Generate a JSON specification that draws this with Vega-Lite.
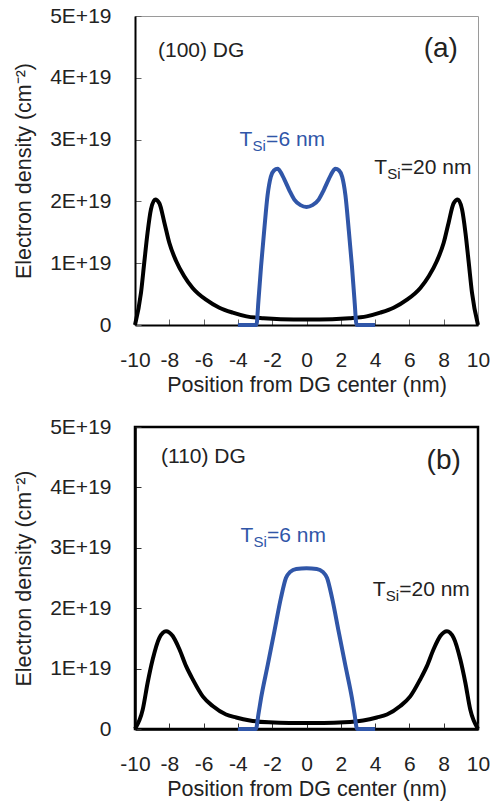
{
  "$schema": "https://vega.github.io/schema/vega-lite/v6.json",
  "background": "white",
  "padding": {"left": 12, "top": 4, "right": 5, "bottom": 0},
  "spacing": 18,
  "config": {
    "font": "Liberation Sans",
    "axis": {
      "grid": false,
      "domainColor": "black",
      "domainWidth": 2,
      "tickColor": "#666666",
      "tickSize": -6,
      "tickWidth": 1,
      "labelFont": "Liberation Sans",
      "labelFontSize": 21,
      "labelColor": "#222222",
      "labelFlush": false,
      "labelOverlap": false,
      "titleFont": "Liberation Sans",
      "titleFontSize": 21.5,
      "titleFontWeight": "normal",
      "titleColor": "#222222"
    },
    "axisX": {"labelPadding": 30, "titlePadding": 4},
    "axisY": {"labelPadding": 30, "titlePadding": 14},
    "line": {"strokeWidth": 4, "interpolate": "monotone"},
    "text": {"font": "Liberation Sans"}
  },
  "datasets": {
    "curvesA": [
      {"tsi": "20 nm", "x": -10, "n": 0},
      {"tsi": "20 nm", "x": -9.65, "n": 0.52},
      {"tsi": "20 nm", "x": -9.46, "n": 1.01},
      {"tsi": "20 nm", "x": -9.27, "n": 1.49},
      {"tsi": "20 nm", "x": -9.07, "n": 1.87},
      {"tsi": "20 nm", "x": -8.82, "n": 2.03},
      {"tsi": "20 nm", "x": -8.58, "n": 1.97},
      {"tsi": "20 nm", "x": -8.29, "n": 1.66},
      {"tsi": "20 nm", "x": -8.0, "n": 1.33},
      {"tsi": "20 nm", "x": -7.61, "n": 1.04},
      {"tsi": "20 nm", "x": -7.13, "n": 0.79},
      {"tsi": "20 nm", "x": -6.64, "n": 0.6},
      {"tsi": "20 nm", "x": -5.86, "n": 0.41},
      {"tsi": "20 nm", "x": -5.08, "n": 0.28},
      {"tsi": "20 nm", "x": -4.3, "n": 0.2},
      {"tsi": "20 nm", "x": -3.5, "n": 0.14},
      {"tsi": "20 nm", "x": -2.5, "n": 0.11},
      {"tsi": "20 nm", "x": -1.5, "n": 0.095},
      {"tsi": "20 nm", "x": 0, "n": 0.09},
      {"tsi": "20 nm", "x": 1.5, "n": 0.095},
      {"tsi": "20 nm", "x": 2.5, "n": 0.11},
      {"tsi": "20 nm", "x": 3.5, "n": 0.14},
      {"tsi": "20 nm", "x": 4.3, "n": 0.2},
      {"tsi": "20 nm", "x": 5.08, "n": 0.28},
      {"tsi": "20 nm", "x": 5.86, "n": 0.41},
      {"tsi": "20 nm", "x": 6.64, "n": 0.6},
      {"tsi": "20 nm", "x": 7.13, "n": 0.79},
      {"tsi": "20 nm", "x": 7.61, "n": 1.04},
      {"tsi": "20 nm", "x": 8.0, "n": 1.33},
      {"tsi": "20 nm", "x": 8.29, "n": 1.66},
      {"tsi": "20 nm", "x": 8.58, "n": 1.97},
      {"tsi": "20 nm", "x": 8.82, "n": 2.03},
      {"tsi": "20 nm", "x": 9.07, "n": 1.87},
      {"tsi": "20 nm", "x": 9.27, "n": 1.49},
      {"tsi": "20 nm", "x": 9.46, "n": 1.01},
      {"tsi": "20 nm", "x": 9.65, "n": 0.52},
      {"tsi": "20 nm", "x": 10, "n": 0},
      {"tsi": "6 nm", "x": -4, "n": 0},
      {"tsi": "6 nm", "x": -2.92, "n": 0},
      {"tsi": "6 nm", "x": -2.8, "n": 0.4},
      {"tsi": "6 nm", "x": -2.65, "n": 0.95},
      {"tsi": "6 nm", "x": -2.46, "n": 1.55},
      {"tsi": "6 nm", "x": -2.27, "n": 2.1},
      {"tsi": "6 nm", "x": -2.08, "n": 2.4},
      {"tsi": "6 nm", "x": -1.9, "n": 2.5},
      {"tsi": "6 nm", "x": -1.68, "n": 2.53},
      {"tsi": "6 nm", "x": -1.5, "n": 2.47},
      {"tsi": "6 nm", "x": -1.3, "n": 2.36},
      {"tsi": "6 nm", "x": -1.0, "n": 2.18},
      {"tsi": "6 nm", "x": -0.71, "n": 2.03},
      {"tsi": "6 nm", "x": -0.35, "n": 1.94},
      {"tsi": "6 nm", "x": 0, "n": 1.91},
      {"tsi": "6 nm", "x": 0.35, "n": 1.94},
      {"tsi": "6 nm", "x": 0.71, "n": 2.03},
      {"tsi": "6 nm", "x": 1.0, "n": 2.18},
      {"tsi": "6 nm", "x": 1.3, "n": 2.36},
      {"tsi": "6 nm", "x": 1.5, "n": 2.47},
      {"tsi": "6 nm", "x": 1.68, "n": 2.53},
      {"tsi": "6 nm", "x": 1.9, "n": 2.5},
      {"tsi": "6 nm", "x": 2.08, "n": 2.4},
      {"tsi": "6 nm", "x": 2.27, "n": 2.1},
      {"tsi": "6 nm", "x": 2.46, "n": 1.55},
      {"tsi": "6 nm", "x": 2.65, "n": 0.95},
      {"tsi": "6 nm", "x": 2.8, "n": 0.4},
      {"tsi": "6 nm", "x": 2.92, "n": 0},
      {"tsi": "6 nm", "x": 4, "n": 0}
    ],
    "curvesB": [
      {"tsi": "20 nm", "x": -10, "n": 0},
      {"tsi": "20 nm", "x": -9.55, "n": 0.32},
      {"tsi": "20 nm", "x": -9.26, "n": 0.77},
      {"tsi": "20 nm", "x": -8.97, "n": 1.15},
      {"tsi": "20 nm", "x": -8.58, "n": 1.51},
      {"tsi": "20 nm", "x": -8.19, "n": 1.62},
      {"tsi": "20 nm", "x": -7.8, "n": 1.54},
      {"tsi": "20 nm", "x": -7.41, "n": 1.32},
      {"tsi": "20 nm", "x": -7.02, "n": 1.04},
      {"tsi": "20 nm", "x": -6.63, "n": 0.82},
      {"tsi": "20 nm", "x": -6.05, "n": 0.54},
      {"tsi": "20 nm", "x": -5.47, "n": 0.38},
      {"tsi": "20 nm", "x": -4.69, "n": 0.24},
      {"tsi": "20 nm", "x": -4.1, "n": 0.19},
      {"tsi": "20 nm", "x": -3.3, "n": 0.14},
      {"tsi": "20 nm", "x": -2.2, "n": 0.11},
      {"tsi": "20 nm", "x": -1, "n": 0.1},
      {"tsi": "20 nm", "x": 0, "n": 0.1},
      {"tsi": "20 nm", "x": 1, "n": 0.1},
      {"tsi": "20 nm", "x": 2.2, "n": 0.11},
      {"tsi": "20 nm", "x": 3.3, "n": 0.14},
      {"tsi": "20 nm", "x": 4.1, "n": 0.19},
      {"tsi": "20 nm", "x": 4.69, "n": 0.24},
      {"tsi": "20 nm", "x": 5.47, "n": 0.38},
      {"tsi": "20 nm", "x": 6.05, "n": 0.54},
      {"tsi": "20 nm", "x": 6.63, "n": 0.82},
      {"tsi": "20 nm", "x": 7.02, "n": 1.04},
      {"tsi": "20 nm", "x": 7.41, "n": 1.32},
      {"tsi": "20 nm", "x": 7.8, "n": 1.54},
      {"tsi": "20 nm", "x": 8.19, "n": 1.62},
      {"tsi": "20 nm", "x": 8.58, "n": 1.51},
      {"tsi": "20 nm", "x": 8.97, "n": 1.15},
      {"tsi": "20 nm", "x": 9.26, "n": 0.77},
      {"tsi": "20 nm", "x": 9.55, "n": 0.32},
      {"tsi": "20 nm", "x": 10, "n": 0},
      {"tsi": "6 nm", "x": -4, "n": 0},
      {"tsi": "6 nm", "x": -2.95, "n": 0},
      {"tsi": "6 nm", "x": -2.8, "n": 0.25},
      {"tsi": "6 nm", "x": -2.65, "n": 0.51},
      {"tsi": "6 nm", "x": -2.26, "n": 1.06},
      {"tsi": "6 nm", "x": -1.87, "n": 1.62},
      {"tsi": "6 nm", "x": -1.49, "n": 2.17},
      {"tsi": "6 nm", "x": -1.2, "n": 2.5},
      {"tsi": "6 nm", "x": -0.95, "n": 2.6},
      {"tsi": "6 nm", "x": -0.6, "n": 2.65},
      {"tsi": "6 nm", "x": 0, "n": 2.66},
      {"tsi": "6 nm", "x": 0.6, "n": 2.65},
      {"tsi": "6 nm", "x": 0.95, "n": 2.6},
      {"tsi": "6 nm", "x": 1.2, "n": 2.5},
      {"tsi": "6 nm", "x": 1.49, "n": 2.17},
      {"tsi": "6 nm", "x": 1.87, "n": 1.62},
      {"tsi": "6 nm", "x": 2.26, "n": 1.06},
      {"tsi": "6 nm", "x": 2.65, "n": 0.51},
      {"tsi": "6 nm", "x": 2.8, "n": 0.25},
      {"tsi": "6 nm", "x": 2.95, "n": 0},
      {"tsi": "6 nm", "x": 4, "n": 0}
    ],
    "notesA": [
      {"tsi": "6 nm", "x": -3.9, "n": 2.9, "main": "T", "sub": "Si", "rest": "=6 nm"},
      {"tsi": "20 nm", "x": 3.95, "n": 2.44, "main": "T", "sub": "Si", "rest": "=20 nm"}
    ],
    "notesB": [
      {"tsi": "6 nm", "x": -3.85, "n": 3.09, "main": "T", "sub": "Si", "rest": "=6 nm"},
      {"tsi": "20 nm", "x": 3.86, "n": 2.2, "main": "T", "sub": "Si", "rest": "=20 nm"}
    ]
  },
  "vconcat": [
    {
      "width": 343,
      "height": 309,
      "view": {"stroke": "#9a9a9a", "strokeWidth": 1},
      "encoding": {
        "x": {
          "field": "x", "type": "quantitative",
          "scale": {"domain": [-10, 10], "nice": false},
          "axis": {"values": [-10, -8, -6, -4, -2, 0, 2, 4, 6, 8, 10], "labelExpr": "datum.value < 0 ? '-' + abs(datum.value) : '' + datum.value", "title": "Position from DG center (nm)"}
        },
        "y": {
          "field": "n", "type": "quantitative",
          "scale": {"domain": [0, 5], "nice": false},
          "axis": {"values": [0, 1, 2, 3, 4, 5], "labelExpr": "datum.value == 0 ? '0' : datum.value + 'E+19'", "title": "Electron density (cm⁻²)"}
        }
      },
      "layer": [
        {
          "data": {"name": "curvesA"},
          "transform": [{"filter": "datum.tsi == '20 nm'"}],
          "mark": {"type": "line", "color": "black"}
        },
        {
          "data": {"name": "curvesA"},
          "transform": [{"filter": "datum.tsi == '6 nm'"}],
          "mark": {"type": "line", "color": "#3056a8"}
        },
        {
          "data": {"values": [{"x": -8.66, "n": 4.33, "label": "(100) DG"}]},
          "mark": {"type": "text", "align": "left", "baseline": "alphabetic", "fontSize": 21, "color": "#222222"},
          "encoding": {"text": {"field": "label"}}
        },
        {
          "data": {"values": [{"x": 8.83, "n": 4.33, "label": "(a)"}]},
          "mark": {"type": "text", "align": "right", "baseline": "alphabetic", "fontSize": 28, "color": "#222222"},
          "encoding": {"text": {"field": "label"}}
        },
        {
          "data": {"name": "notesA"},
          "mark": {"type": "text", "align": "left", "baseline": "alphabetic", "fontSize": 21},
          "encoding": {
            "text": {"field": "main"},
            "color": {"field": "tsi", "type": "nominal", "scale": {"domain": ["20 nm", "6 nm"], "range": ["#222222", "#3056a8"]}, "legend": null}
          }
        },
        {
          "data": {"name": "notesA"},
          "mark": {"type": "text", "align": "left", "baseline": "alphabetic", "fontSize": 15, "dx": 13, "dy": 5},
          "encoding": {
            "text": {"field": "sub"},
            "color": {"field": "tsi", "type": "nominal", "scale": {"domain": ["20 nm", "6 nm"], "range": ["#222222", "#3056a8"]}, "legend": null}
          }
        },
        {
          "data": {"name": "notesA"},
          "mark": {"type": "text", "align": "left", "baseline": "alphabetic", "fontSize": 21, "dx": 26.5},
          "encoding": {
            "text": {"field": "rest"},
            "color": {"field": "tsi", "type": "nominal", "scale": {"domain": ["20 nm", "6 nm"], "range": ["#222222", "#3056a8"]}, "legend": null}
          }
        }
      ]
    },
    {
      "width": 343,
      "height": 302,
      "view": {"stroke": "black", "strokeWidth": 2.5},
      "encoding": {
        "x": {
          "field": "x", "type": "quantitative",
          "scale": {"domain": [-10, 10], "nice": false},
          "axis": {"values": [-10, -8, -6, -4, -2, 0, 2, 4, 6, 8, 10], "labelExpr": "datum.value < 0 ? '-' + abs(datum.value) : '' + datum.value", "title": "Position from DG center (nm)", "domainWidth": 2.5, "tickColor": "#333333"}
        },
        "y": {
          "field": "n", "type": "quantitative",
          "scale": {"domain": [0, 5], "nice": false},
          "axis": {"values": [0, 1, 2, 3, 4, 5], "labelExpr": "datum.value == 0 ? '0' : datum.value + 'E+19'", "title": "Electron density (cm⁻²)", "domainWidth": 2.5, "tickColor": "#333333"}
        }
      },
      "layer": [
        {
          "data": {"name": "curvesB"},
          "transform": [{"filter": "datum.tsi == '20 nm'"}],
          "mark": {"type": "line", "color": "black"}
        },
        {
          "data": {"name": "curvesB"},
          "transform": [{"filter": "datum.tsi == '6 nm'"}],
          "mark": {"type": "line", "color": "#3056a8"}
        },
        {
          "data": {"values": [{"x": -8.48, "n": 4.41, "label": "(110) DG"}]},
          "mark": {"type": "text", "align": "left", "baseline": "alphabetic", "fontSize": 21, "color": "#222222"},
          "encoding": {"text": {"field": "label"}}
        },
        {
          "data": {"values": [{"x": 9.0, "n": 4.3, "label": "(b)"}]},
          "mark": {"type": "text", "align": "right", "baseline": "alphabetic", "fontSize": 28, "color": "#222222"},
          "encoding": {"text": {"field": "label"}}
        },
        {
          "data": {"name": "notesB"},
          "mark": {"type": "text", "align": "left", "baseline": "alphabetic", "fontSize": 21},
          "encoding": {
            "text": {"field": "main"},
            "color": {"field": "tsi", "type": "nominal", "scale": {"domain": ["20 nm", "6 nm"], "range": ["#222222", "#3056a8"]}, "legend": null}
          }
        },
        {
          "data": {"name": "notesB"},
          "mark": {"type": "text", "align": "left", "baseline": "alphabetic", "fontSize": 15, "dx": 13, "dy": 5},
          "encoding": {
            "text": {"field": "sub"},
            "color": {"field": "tsi", "type": "nominal", "scale": {"domain": ["20 nm", "6 nm"], "range": ["#222222", "#3056a8"]}, "legend": null}
          }
        },
        {
          "data": {"name": "notesB"},
          "mark": {"type": "text", "align": "left", "baseline": "alphabetic", "fontSize": 21, "dx": 26.5},
          "encoding": {
            "text": {"field": "rest"},
            "color": {"field": "tsi", "type": "nominal", "scale": {"domain": ["20 nm", "6 nm"], "range": ["#222222", "#3056a8"]}, "legend": null}
          }
        }
      ]
    }
  ]
}
